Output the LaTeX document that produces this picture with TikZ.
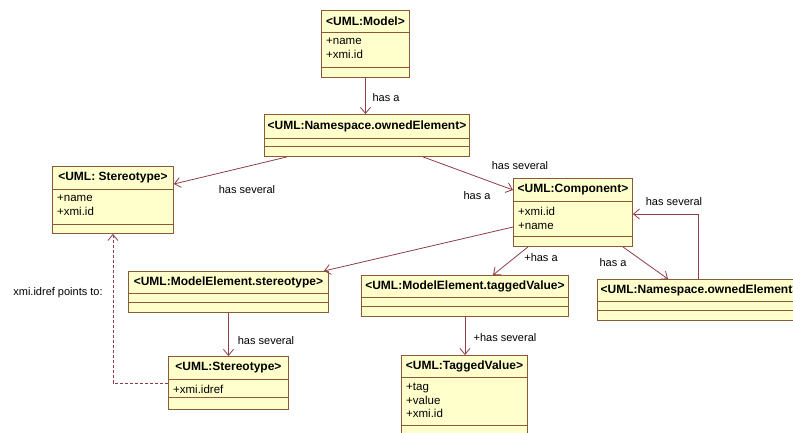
\documentclass[tikz,border=0pt]{standalone}
\usepackage{fontspec}
\setmainfont{Liberation Sans}
\usetikzlibrary{arrows.meta,calc}

\definecolor{clsfill}{HTML}{FFFFCC}
\definecolor{clsedge}{HTML}{8A5A36}
\definecolor{assoc}{HTML}{8C3F48}

\tikzset{
  clsbox/.style={draw=clsedge, fill=clsfill, line width=0.9pt, inner sep=0pt, rectangle},
  clsline/.style={draw=clsedge, line width=0.9pt},
  clstitle/.style={font=\fontsize{12}{14}\selectfont\bfseries, inner sep=0pt},
  clsattr/.style={font=\fontsize{11.5}{13.5}\selectfont, inner sep=0pt, align=left, anchor=north west},
  lbl/.style={font=\fontsize{11}{13}\selectfont, inner sep=0pt},
  assocline/.style={draw=assoc, line width=0.8pt, -{Straight Barb[length=6pt,width=10pt]}},
  refline/.style={draw=assoc, line width=0.8pt, dash pattern=on 3pt off 2pt, -{Straight Barb[length=6pt,width=10pt]}}
}

% class box: name, left, top, width, header height, attribute height, total height, title, attributes
\newcommand\umlclass[9]{%
  \node[clsbox, minimum width=#4pt, minimum height=#7pt, anchor=north west] (#1) at (#2,#3) {};
  \draw[clsline] (#1.north west) ++(0,#5) -- ++(#4,0);
  \draw[clsline] (#1.north west) ++(0,#5+#6) -- ++(#4,0);
  \path (#1.north) ++(0,#5/2) node[clstitle] (#1-t) {#8};
  \path (#1.north west) ++(5,#5+6) node[clsattr] (#1-a) {#9};
}

\begin{document}
\begin{tikzpicture}[x=1pt,y=-1pt]
\useasboundingbox (0,0) rectangle (793,432);
\clip (0,0) rectangle (793,432);
\fill[white] (0,0) rectangle (793,432);

% classes
\umlclass{model}{321}{10}{88}{22}{35}{67}{<UML:Model>}{+name\\+xmi.id}
\umlclass{nsa}{264}{114}{205}{24}{8}{42}{<UML:Namespace.ownedElement>}{}
\umlclass{stya}{52}{166}{121}{23}{35}{67}{<UML: Stereotype>}{+name\\+xmi.id}
\umlclass{comp}{513}{178}{119}{23}{35}{68}{<UML:Component>}{+xmi.id\\+name}
\umlclass{mest}{128}{271}{200}{22}{9}{41}{<UML:ModelElement.stereotype>}{}
\umlclass{metv}{361}{275}{207}{22}{9}{41}{<UML:ModelElement.taggedValue>}{}
\umlclass{nsb}{597}{279}{205}{22}{9}{41}{<UML:Namespace.ownedElement>}{}
\umlclass{styb}{168}{356}{120}{23}{18}{53}{<UML:Stereotype>}{+xmi.idref}
\umlclass{tval}{401}{355}{126}{22}{48}{80}{<UML:TaggedValue>}{+tag\\+value\\+xmi.id}

% associations
\draw[assocline] (model.south) -- (model.south |- nsa.north);
\draw[assocline] ($(nsa.south west)+(23,0)$) -- ($(stya.north east)+(0,18)$);
\draw[assocline] ($(nsa.south west)+(159,0)$) -- ($(comp.north west)+(0,12)$);
\draw[assocline] ($(comp.north west)+(0,49)$) -- ($(mest.north east)+(-5,0)$);
\draw[assocline] ($(comp.south west)+(15,0)$) -- ($(metv.north west)+(132,0)$);
\draw[assocline] ($(comp.south east)+(-10,0)$) -- ($(nsb.north west)+(71,0)$);
\draw[assocline] ($(nsb.north west)+(101,0)$) |- ($(comp.north east)+(0,36)$);
\draw[assocline] (mest.south) -- (mest.south |- styb.north);
\draw[assocline] (metv.south) -- (metv.south |- tval.north);
\draw[refline] (styb.west) -| (stya.south);

% association labels
\node[lbl] (l1) at (386,98) {has a};
\node[lbl] (l2) at (247,190) {has several};
\node[lbl] (l3) at (520,166) {has several};
\node[lbl] (l4) at (477,196) {has a};
\node[lbl] (l5) at (541,258) {+has a};
\node[lbl] (l6) at (613,263) {has a};
\node[lbl] (l7) at (674,202) {has several};
\node[lbl] (l8) at (266,341) {has several};
\node[lbl] (l9) at (505,338) {+has several};
\node[lbl] (l10) at (58,293) {xmi.idref points to:};
\end{tikzpicture}
\end{document}
